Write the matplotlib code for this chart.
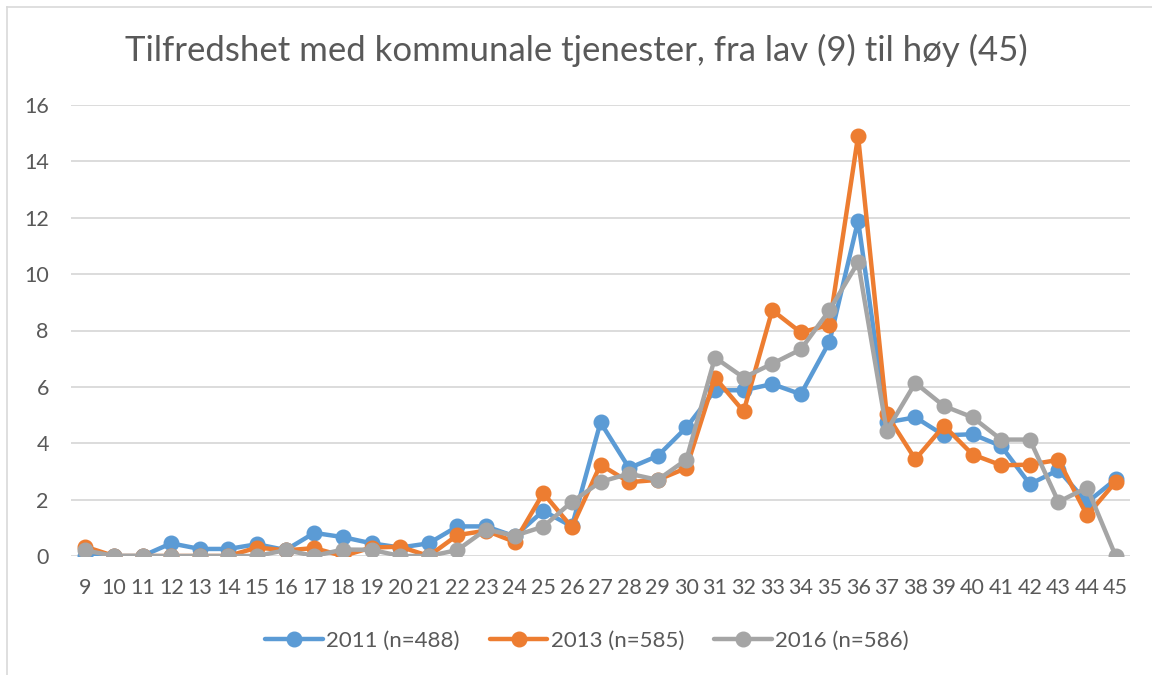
import matplotlib
matplotlib.use("Agg")
import matplotlib.pyplot as plt
from matplotlib.lines import Line2D

plt.rcParams['font.family'] = ['Lato', 'DejaVu Sans']

categories = list(range(9, 46))
labels = ["2011 (n=488)", "2013 (n=585)", "2016 (n=586)"]
s2011 = [0, 0, 0, 0.45, 0.25, 0.25, 0.42, 0.21, 0.82, 0.67, 0.45, 0.3, 0.45, 1.05, 1.05, 0.7, 1.6, 1.05,
         4.74, 3.12, 3.55, 4.56, 5.88, 5.88, 6.1, 5.74, 7.6, 11.9, 4.74, 4.92, 4.28, 4.32, 3.9, 2.55,
         3.05, 1.9, 2.72]
s2013 = [0.33, 0, 0, 0, 0, 0, 0.3, 0.2, 0.28, 0, 0.3, 0.33, 0, 0.74, 0.9, 0.5, 2.23, 1.02,
         3.24, 2.62, 2.7, 3.12, 6.33, 5.13, 8.72, 7.93, 8.2, 14.9, 5.02, 3.43, 4.62, 3.6, 3.22, 3.24,
         3.41, 1.44, 2.63]
s2016 = [0.2, 0, 0, 0, 0, 0, 0, 0.21, 0, 0.23, 0.22, 0, 0, 0.21, 0.94, 0.72, 1.04, 1.92,
         2.63, 2.92, 2.7, 3.42, 7.04, 6.33, 6.82, 7.33, 8.72, 10.42, 4.44, 6.14, 5.32, 4.92, 4.13, 4.13,
         1.92, 2.43, 0]
colors = ["#5B9BD5", "#ED7D31", "#A5A5A5"]
yticks = [0, 2, 4, 6, 8, 10, 12, 14, 16]
title = "Tilfredshet med kommunale tjenester, fra lav (9) til høy (45)"

fig = plt.figure(figsize=(11.52, 6.75), dpi=100)
# chart frame: only top and left edges visible
fig.lines.append(Line2D([7/1152, 1.0], [1 - 7/675, 1 - 7/675], transform=fig.transFigure,
                        color="#D9D9D9", linewidth=1.2))
fig.lines.append(Line2D([7/1152, 7/1152], [0.0, 1 - 7/675], transform=fig.transFigure,
                        color="#D9D9D9", linewidth=1.2))

ax = fig.add_axes([71/1152, 1 - 556/675, (1130 - 71)/1152, (556 - 105)/675])

for data, c, lab in zip([s2011, s2013, s2016], colors, labels):
    ax.plot(categories, data, color=c, linewidth=3.2, marker='o', markersize=10.5,
            label=lab, solid_joinstyle='round', solid_capstyle='round')

ax.set_xlim(8.5, 45.5)
ax.set_ylim(0, 16)
ax.set_yticks(yticks)
ax.set_xticks(categories)
ax.set_xticklabels([str(c) for c in categories])
ax.grid(axis='y', color="#D9D9D9", linewidth=1.3)
ax.set_axisbelow(True)
for s in ax.spines.values():
    s.set_visible(False)
ax.tick_params(axis='both', length=0, labelsize=15.5, colors="#595959")
ax.tick_params(axis='x', pad=16)
ax.tick_params(axis='y', pad=16)

fig.text(0.5, 1 - 50/675, title, ha='center', va='center', fontsize=25, color="#595959")

leg = fig.legend(loc='center', bbox_to_anchor=(587/1152, 1 - 641/675), ncol=3, frameon=False,
                 fontsize=16, handlelength=2.6, columnspacing=1.35, handletextpad=0.15,
                 labelcolor="#595959")

fig.savefig("out.png", dpi=100)
